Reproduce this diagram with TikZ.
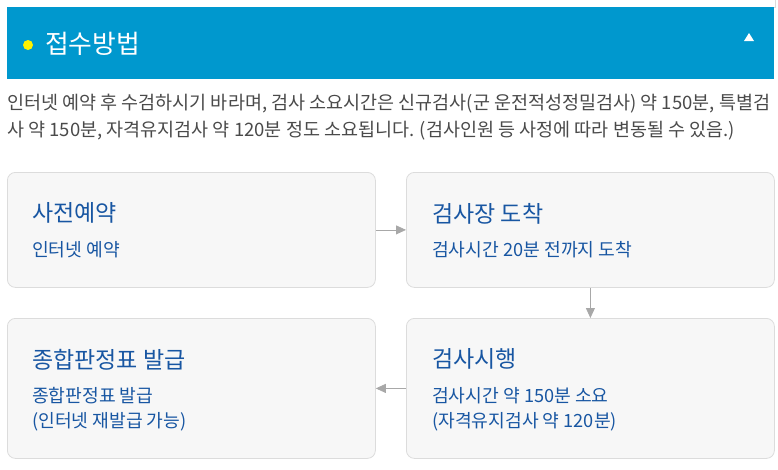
\documentclass[tikz,border=0pt]{standalone}
\usepackage{fontspec}
\setmainfont{Noto Sans CJK KR}
\usepackage{xcolor}
\usetikzlibrary{arrows.meta,positioning}
\definecolor{headblue}{HTML}{0098CE}
\definecolor{stepblue}{HTML}{1856A2}
\definecolor{boxgray}{HTML}{F7F7F7}
\definecolor{linegray}{HTML}{DCDCDC}
\definecolor{arrowgray}{HTML}{A8A8A8}
\definecolor{textgray}{HTML}{4A4A4A}
\begin{document}
\begin{tikzpicture}[x=1pt,y=-1pt,
  stepbox/.style={draw=linegray,fill=boxgray,rounded corners=8pt,line width=0.8pt,
    minimum width=368pt,minimum height=115pt,inner sep=0pt,anchor=north west},
  steptitle/.style={anchor=west,inner sep=0pt,text=stepblue,font=\fontsize{23pt}{27pt}\selectfont},
  stepsub/.style={anchor=west,inner sep=0pt,text=stepblue,font=\fontsize{18.2pt}{22pt}\selectfont},
  introline/.style={anchor=west,inner sep=0pt,text=textgray,font=\fontsize{18.5pt}{22pt}\selectfont},
  flow/.style={draw=arrowgray,line width=0.8pt,-{Triangle[length=10pt,width=9pt]}}]
\useasboundingbox (0,0) rectangle (778,469);
% \draw[help lines] (0,0) grid (778,469);
%
% header bar
\draw[linegray,line width=0.6pt] (7,7) -- (775,7) -- (775,0);
\node (head) [fill=headblue,anchor=north west,minimum width=767pt,minimum height=72pt,inner sep=0pt] at (7,7) {};
\node (dot) [circle,fill=yellow,minimum size=10pt,inner sep=0pt] at (28,45) {};
\node (headtxt) [anchor=west,inner sep=0pt,text=white,font=\fontsize{25.8pt}{30pt}\selectfont] at (45,44) {접수방법};
\fill[white] (744,41) -- (754,41) -- (749,33) -- cycle;
%
% intro text
\node (intro1) [introline] at (7,104) {인터넷 예약 후 수검하시기 바라며, 검사 소요시간은 신규검사(군 운전적성정밀검사) 약 150분, 특별검};
\node (intro2) [introline] at (7,131) {사 약 150분, 자격유지검사 약 120분 정도 소요됩니다. (검사인원 등 사정에 따라 변동될 수 있음.)};
%
% steps
\node (s1) [stepbox] at (7,172) {};
\node (s2) [stepbox] at (406,172) {};
\node (s3) [stepbox,minimum height=140pt] at (7,318) {};
\node (s4) [stepbox,minimum height=140pt] at (406,318) {};
%
\node (t1) [steptitle] at (32,213) {사전예약};
\node (d1) [stepsub] at (32,250) {인터넷 예약};
\node (t2) [steptitle] at (432,214) {검사장 도착};
\node (d2) [stepsub] at (432,250) {검사시간 20분 전까지 도착};
\node (t3) [steptitle] at (32,360) {종합판정표 발급};
\node (d3) [stepsub] at (32,396) {종합판정표 발급};
\node (e3) [stepsub] at (32,422) {(인터넷 재발급 가능)};
\node (t4) [steptitle] at (432,359) {검사시행};
\node (d4) [stepsub] at (432,396) {검사시간 약 150분 소요};
\node (e4) [stepsub] at (432,422) {(자격유지검사 약 120분)};
%
\draw[flow] (s1) -- (s2);
\draw[flow] (s2) -- (s4);
\draw[flow] (s4) -- (s3);
\end{tikzpicture}
\end{document}
